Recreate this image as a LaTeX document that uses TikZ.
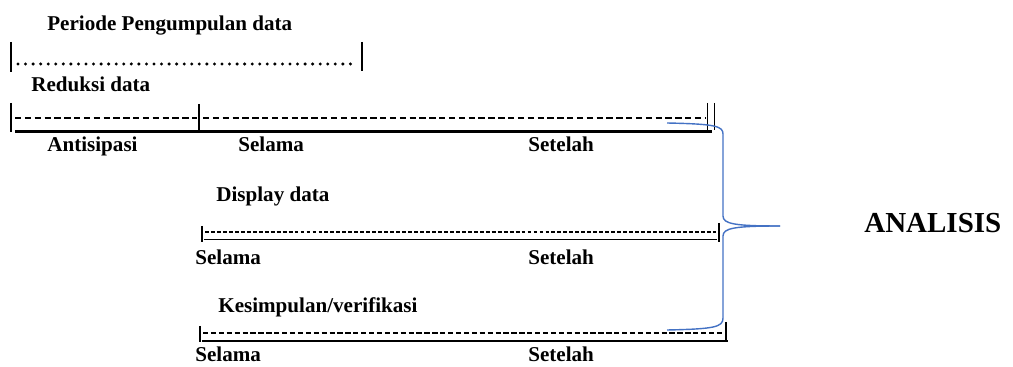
\documentclass[tikz,border=0pt]{standalone}
\usepackage{fontspec}
\setmainfont{Liberation Serif}
\definecolor{bracecol}{RGB}{68,114,196}
\tikzset{
  lbl/.style={font=\bfseries\fontsize{12}{14}\selectfont,inner sep=0pt,anchor=base west},
  bigl/.style={font=\bfseries\fontsize{16.5}{19}\selectfont,inner sep=0pt,anchor=base west},
  bar/.style={line width=1.1pt},
  dotrow/.style={line width=1.9pt,line cap=round,dash pattern=on 0pt off 4.3pt},
  boldrow/.style={line width=1.6pt,dash pattern=on 3.6pt off 2pt},
  thinrow/.style={line width=0.6pt,dash pattern=on 2.2pt off 1.2pt},
  midrow/.style={line width=1pt,dash pattern=on 3pt off 1.5pt},
  baseln/.style={line width=#1},
  brace/.style={draw=bracecol,line width=0.8pt}
}
\begin{document}
\begin{tikzpicture}[x=0.02cm,y=-0.02cm]
\useasboundingbox (0,0) rectangle (1013,367);
% periode pengumpulan data
\node[lbl] (periode) at (47,30.5) {Periode Pengumpulan data};
\coordinate (pa) at (11,42); \coordinate (pb) at (11,72);
\coordinate (pc) at (362,42); \coordinate (pd) at (362,71);
\draw[bar] (pa)--(pb); \draw[bar] (pc)--(pd); % ends
\draw[dotrow] (18,64)--(357,64); % dots
% reduksi data
\node[lbl] (reduksi) at (31,91.5) {Reduksi data};
\coordinate (ra) at (11,103); \coordinate (rb) at (11,132);
\coordinate (rc) at (199,104); \coordinate (rd) at (199,131);
\coordinate (re) at (707.5,103); \coordinate (rf) at (707.5,132);
\coordinate (rg) at (714.5,103); \coordinate (rh) at (714.5,130);
\draw[bar] (ra)--(rb); \draw[bar] (rc)--(rd); % ends
\draw[bar] (re)--(rf); \draw[bar] (rg)--(rh); % double end
\draw[boldrow] (15,118)--(197,118); % dashes
\draw[boldrow] (203,118)--(705,118); % dashes
\draw[baseln=1.7pt] (15,131.5)--(712,131.5); % base
\node[lbl] (antisipasi) at (47,152) {Antisipasi};
\node[lbl] (selamaA) at (238,152) {Selama};
\node[lbl] (setelahA) at (528,152) {Setelah};
% display data
\node[lbl] (display) at (216,202) {Display data};
\coordinate (da) at (202,226); \coordinate (db) at (202,242);
\coordinate (dc) at (719,223); \coordinate (dd) at (719,242);
\draw[bar] (da)--(db); \draw[bar] (dc)--(dd); % ends
\draw[thinrow] (205,232)--(716,232); % dashes
\draw[baseln=1.1pt] (204,239.5)--(717,239.5); % base
\node[lbl] (selamaB) at (195,265) {Selama};
\node[lbl] (setelahB) at (528,265) {Setelah};
% kesimpulan
\node[lbl] (kesimpulan) at (218,313) {Kesimpulan/verifikasi};
\coordinate (ka) at (200,326); \coordinate (kb) at (200,342);
\coordinate (kc) at (726,322); \coordinate (kd) at (726,341);
\draw[bar] (ka)--(kb); \draw[bar] (kc)--(kd); % ends
\draw[midrow] (203,333)--(724,333); % dashes
\draw[baseln=1.4pt] (202,341)--(728,341); % base
\node[lbl] (selamaC) at (195,361) {Selama};
\node[lbl] (setelahC) at (528,361) {Setelah};
% brace
\node[bigl] (analisis) at (864,233) {ANALISIS};
\coordinate (btop) at (667,123); \coordinate (btip) at (780,226); \coordinate (bbot) at (667,330);
\draw[brace] (btop) .. controls (715,124) and (723,126) .. (723,134) -- (723,216)
  .. controls (723,224) and (735,226) .. (btip);
\draw[brace] (btip) .. controls (735,226) and (723,228) .. (723,236) -- (723,318)
  .. controls (723,327) and (715,329) .. (bbot);
\end{tikzpicture}
\end{document}
